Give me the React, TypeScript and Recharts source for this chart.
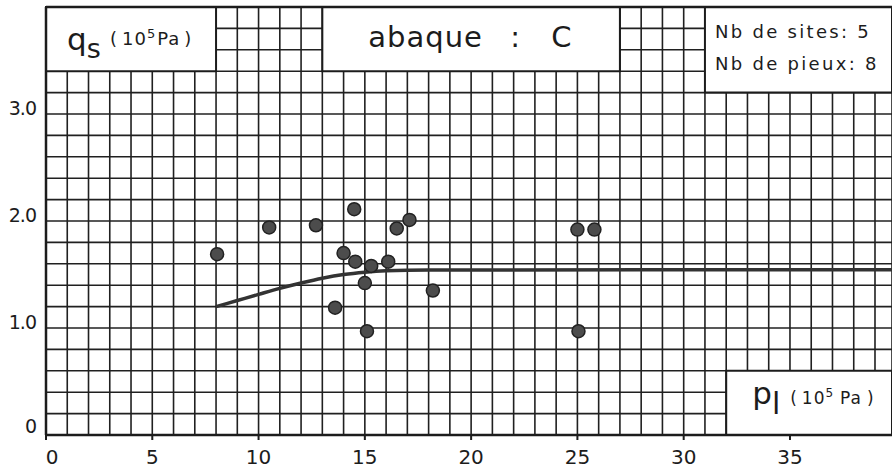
import React from 'react';
import {
  ComposedChart, XAxis, YAxis, CartesianGrid, Line, Scatter, ReferenceArea, ReferenceLine,
} from 'recharts';

// ---- data ----
const PL_POINTS = [8.05, 10.5, 12.7, 13.6, 14.0, 14.5, 14.55, 15.0, 15.1, 15.3, 16.1, 16.5, 17.1, 18.2, 25.0, 25.8, 25.05];
const QS_POINTS = [1.69, 1.94, 1.96, 1.19, 1.70, 2.11, 1.62, 1.42, 0.97, 1.58, 1.62, 1.93, 2.01, 1.35, 1.92, 1.92, 0.97];

const PL_CURVE = [8, 9, 10, 11, 12, 13, 14, 15, 16, 18, 39.8];
const QS_CURVE = [1.2, 1.257, 1.314, 1.37, 1.42, 1.465, 1.5, 1.522, 1.535, 1.542, 1.545];

const X_LABEL_TICKS = [0, 5, 10, 15, 20, 25, 30, 35];
const X_GRID = [0, 1, 2, 3, 4, 5, 6, 7, 8, 9, 10, 11, 12, 13, 14, 15, 16, 17, 18, 19, 20,
  21, 22, 23, 24, 25, 26, 27, 28, 29, 30, 31, 32, 33, 34, 35, 36, 37, 38, 39];
const Y_GRID = [0, 0.2, 0.4, 0.6, 0.8, 1, 1.2, 1.4, 1.6, 1.8, 2, 2.2, 2.4, 2.6, 2.8, 3, 3.2, 3.4, 3.6, 3.8, 4];
const Y_LABELS: Record<string, string> = { '0': '0', '1': '1.0', '2': '2.0', '3': '3.0' };

const X_MAX = 39.8;
const Y_MAX = 4;

const points = PL_POINTS.map((x, i) => ({ x, y: QS_POINTS[i] }));
const curve = PL_CURVE.map((x, i) => ({ x, y: QS_CURVE[i] }));

const FONT = '"DejaVu Sans", sans-serif';
const INK = '#1c1c1c';

const XTick = (props: any) => {
  const { x, y, payload } = props;
  if (!X_LABEL_TICKS.includes(payload.value)) return null;
  return (
    <g>
      <line x1={x} x2={x} y1={y} y2={y + 5} stroke={INK} strokeWidth={2} />
      <text x={payload.value === 0 ? x + 6 : x} y={y + 29} textAnchor="middle" fontFamily={FONT} fontSize={20} fill={INK}>
        {payload.value}
      </text>
    </g>
  );
};

const YTick = (props: any) => {
  const { x, y, payload } = props;
  const key = String(payload.value);
  const label = Y_LABELS[key];
  if (!label) return null;
  return (
    <text x={x - 10} y={label === '0' ? y - 2 : y + 1} textAnchor="end" fontFamily={FONT} fontSize={19} fill={INK} letterSpacing={-1}>
      {label}
    </text>
  );
};

const Dot = (props: any) => {
  const { cx, cy } = props;
  if (cx == null || cy == null) return null;
  return <circle cx={cx} cy={cy} r={6.5} fill="#4c4c4c" stroke="#222" strokeWidth={1.5} />;
};

const QsLabel = (props: any) => {
  const vb = props.viewBox || { x: 0, y: 0 };
  return (
    <g fontFamily={FONT} fill={INK}>
      <text x={vb.x + 21} y={vb.y + 43} fontSize={31}>q<tspan fontSize={27} dy={8}>s</tspan></text>
      <text x={vb.x + 64} y={vb.y + 38} fontSize={18} letterSpacing={1}>
        (<tspan dx={4}>10</tspan><tspan fontSize={13} dy={-7}>5</tspan><tspan dy={7} dx={1}>Pa</tspan><tspan dx={4}>)</tspan>
      </text>
    </g>
  );
};

const AbaqueLabel = (props: any) => {
  const vb = props.viewBox || { x: 0, y: 0 };
  return (
    <g fontFamily={FONT} fill={INK} fontSize={29}>
      <text x={vb.x + 46} y={vb.y + 40} letterSpacing={1}>abaque</text>
      <text x={vb.x + 188} y={vb.y + 40}>:</text>
      <text x={vb.x + 229} y={vb.y + 40}>C</text>
    </g>
  );
};

const NbLabel = (props: any) => {
  const vb = props.viewBox || { x: 0, y: 0 };
  return (
    <g fontFamily={FONT} fill={INK} fontSize={18} letterSpacing={2.3}>
      <text x={vb.x + 10} y={vb.y + 31}>Nb de sites: 5</text>
      <text x={vb.x + 10} y={vb.y + 63}>Nb de pieux: 8</text>
    </g>
  );
};

const PlLabel = (props: any) => {
  const vb = props.viewBox || { x: 0, y: 0 };
  return (
    <g fontFamily={FONT} fill={INK}>
      <text x={vb.x + 26} y={vb.y + 33} fontSize={31}>p<tspan dy={10} fontSize={30}>l</tspan></text>
      <text x={vb.x + 64} y={vb.y + 33} fontSize={17} letterSpacing={1}>
        (<tspan dx={4}>10</tspan><tspan fontSize={12} dy={-7}>5</tspan><tspan dy={7} dx={6}>Pa</tspan><tspan dx={5}>)</tspan>
      </text>
    </g>
  );
};

export default function App() {
  return (
    <div style={{ position: 'absolute', left: 0, top: 0, width: 892, height: 473, background: '#fff' }}>
      <ComposedChart width={892} height={473} margin={{ top: 7, right: 0, bottom: 0, left: 0 }}>
        <CartesianGrid stroke="#202020" strokeWidth={1.6} />
        <XAxis
          type="number"
          dataKey="x"
          domain={[0, X_MAX]}
          allowDataOverflow
          ticks={X_GRID}
          interval={0}
          height={38}
          tickSize={0}
          tickMargin={0}
          tickLine={false}
          tick={<XTick />}
          axisLine={{ stroke: INK, strokeWidth: 2.5 }}
        />
        <YAxis
          type="number"
          domain={[0, Y_MAX]}
          allowDataOverflow
          ticks={Y_GRID}
          interval={0}
          width={46}
          tickSize={0}
          tickMargin={0}
          tickLine={false}
          tick={<YTick />}
          axisLine={{ stroke: INK, strokeWidth: 2.5 }}
        />
        <ReferenceLine y={Y_MAX} stroke={INK} strokeWidth={2.5} />
        <ReferenceArea x1={0} x2={8} y1={3.4} y2={4} fill="#fff" fillOpacity={1} stroke={INK} strokeWidth={2} label={<QsLabel />} />
        <ReferenceArea x1={13} x2={27} y1={3.4} y2={4} fill="#fff" fillOpacity={1} stroke={INK} strokeWidth={2} label={<AbaqueLabel />} />
        <ReferenceArea x1={31} x2={X_MAX} y1={3.2} y2={4} fill="#fff" fillOpacity={1} stroke={INK} strokeWidth={2} label={<NbLabel />} />
        <ReferenceArea x1={32} x2={X_MAX} y1={0} y2={0.6} fill="#fff" fillOpacity={1} stroke={INK} strokeWidth={2} label={<PlLabel />} />
        <Line
          data={curve}
          dataKey="y"
          type="monotone"
          stroke="#333"
          strokeWidth={3.5}
          dot={false}
          activeDot={false}
          isAnimationActive={false}
        />
        <Scatter data={points} dataKey="y" shape={<Dot />} isAnimationActive={false} />
      </ComposedChart>
    </div>
  );
}
